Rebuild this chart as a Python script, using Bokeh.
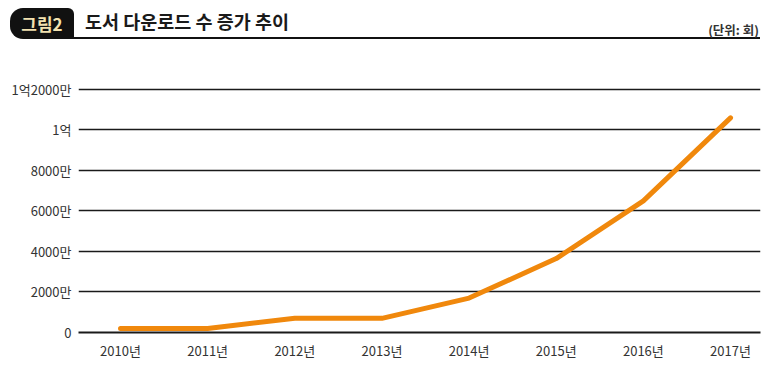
from bokeh.plotting import figure
from bokeh.layouts import column
from bokeh.models import Range1d, FixedTicker, Div
from bokeh.embed import file_html
from bokeh.resources import INLINE

# ---- data ----
years = ["2010년", "2011년", "2012년", "2013년", "2014년", "2015년", "2016년", "2017년"]
downloads_man = [200, 200, 700, 700, 1700, 3650, 6500, 10600]   # unit: 만 회
y_ticks = [0, 2000, 4000, 6000, 8000, 10000, 12000]
y_tick_labels = ["0", "2000만", "4000만", "6000만", "8000만", "1억", "1억2000만"]
tab_label = "그림2"
title_text = "도서 다운로드 수 증가 추이"
unit_text = "(단위: 회)"

KFONT = "'Noto Sans CJK KR', sans-serif"

W = 765
HEAD = 42
H = 366 - HEAD
FL, FR, FT, FB = 78, 760, 80 - HEAD, 332 - HEAD   # frame edges in the figure

header_html = f"""
<div style="position:relative;width:{W}px;height:{HEAD}px;font-family:{KFONT};">
  <div style="position:absolute;left:10px;top:8px;width:64px;height:31px;background:#111111;
              border-radius:13px 6px 0 13px;color:#F3E2B0;font-weight:bold;font-size:17px;
              line-height:31px;text-align:center;">{tab_label}</div>
  <div style="position:absolute;left:74px;top:37px;width:686px;height:2px;background:#111111;"></div>
  <div style="position:absolute;left:85px;top:6px;height:31px;line-height:31px;font-size:18.5px;
              font-weight:bold;color:#1a1a1a;white-space:nowrap;">{title_text}</div>
  <div style="position:absolute;right:6px;top:23px;height:14px;line-height:14px;font-size:12.5px;
              font-weight:bold;color:#333333;white-space:nowrap;">{unit_text}</div>
</div>
"""
head = Div(text=header_html, width=W, height=HEAD, margin=0)

p = figure(width=W, height=H, x_range=Range1d(-0.482, 7.344), y_range=Range1d(0, 12444),
           toolbar_location=None, output_backend="svg",
           min_border_left=FL, min_border_right=W - FR, min_border_top=FT, min_border_bottom=H - FB)
p.outline_line_color = None
p.xgrid.visible = False
p.ygrid.ticker = FixedTicker(ticks=y_ticks)
p.ygrid.grid_line_color = "#1a1a1a"
p.ygrid.grid_line_width = 1.6

p.yaxis.ticker = FixedTicker(ticks=y_ticks)
p.yaxis.major_label_overrides = {t: l for t, l in zip(y_ticks, y_tick_labels)}
p.yaxis.axis_line_color = None
p.yaxis.major_tick_line_color = None
p.yaxis.major_tick_out = 0
p.yaxis.major_tick_in = 0
p.yaxis.minor_tick_line_color = None
p.yaxis.major_label_standoff = 7
p.yaxis.major_label_text_font = KFONT
p.yaxis.major_label_text_font_size = "13px"
p.yaxis.major_label_text_color = "#333333"

p.xaxis.ticker = FixedTicker(ticks=list(range(len(years))))
p.xaxis.major_label_overrides = {i: y for i, y in enumerate(years)}
p.xaxis.axis_line_color = "#1a1a1a"
p.xaxis.axis_line_width = 2
p.xaxis.major_tick_line_color = None
p.xaxis.major_tick_out = 0
p.xaxis.major_tick_in = 0
p.xaxis.minor_tick_line_color = None
p.xaxis.major_label_standoff = 8
p.xaxis.major_label_text_font = KFONT
p.xaxis.major_label_text_font_size = "13px"
p.xaxis.major_label_text_color = "#333333"

p.line(x=list(range(len(years))), y=downloads_man, line_color="#F0880C", line_width=5,
       line_cap="round", line_join="round")

layout = column(head, p, spacing=0)
open("out.html", "w").write(file_html(layout, INLINE))
